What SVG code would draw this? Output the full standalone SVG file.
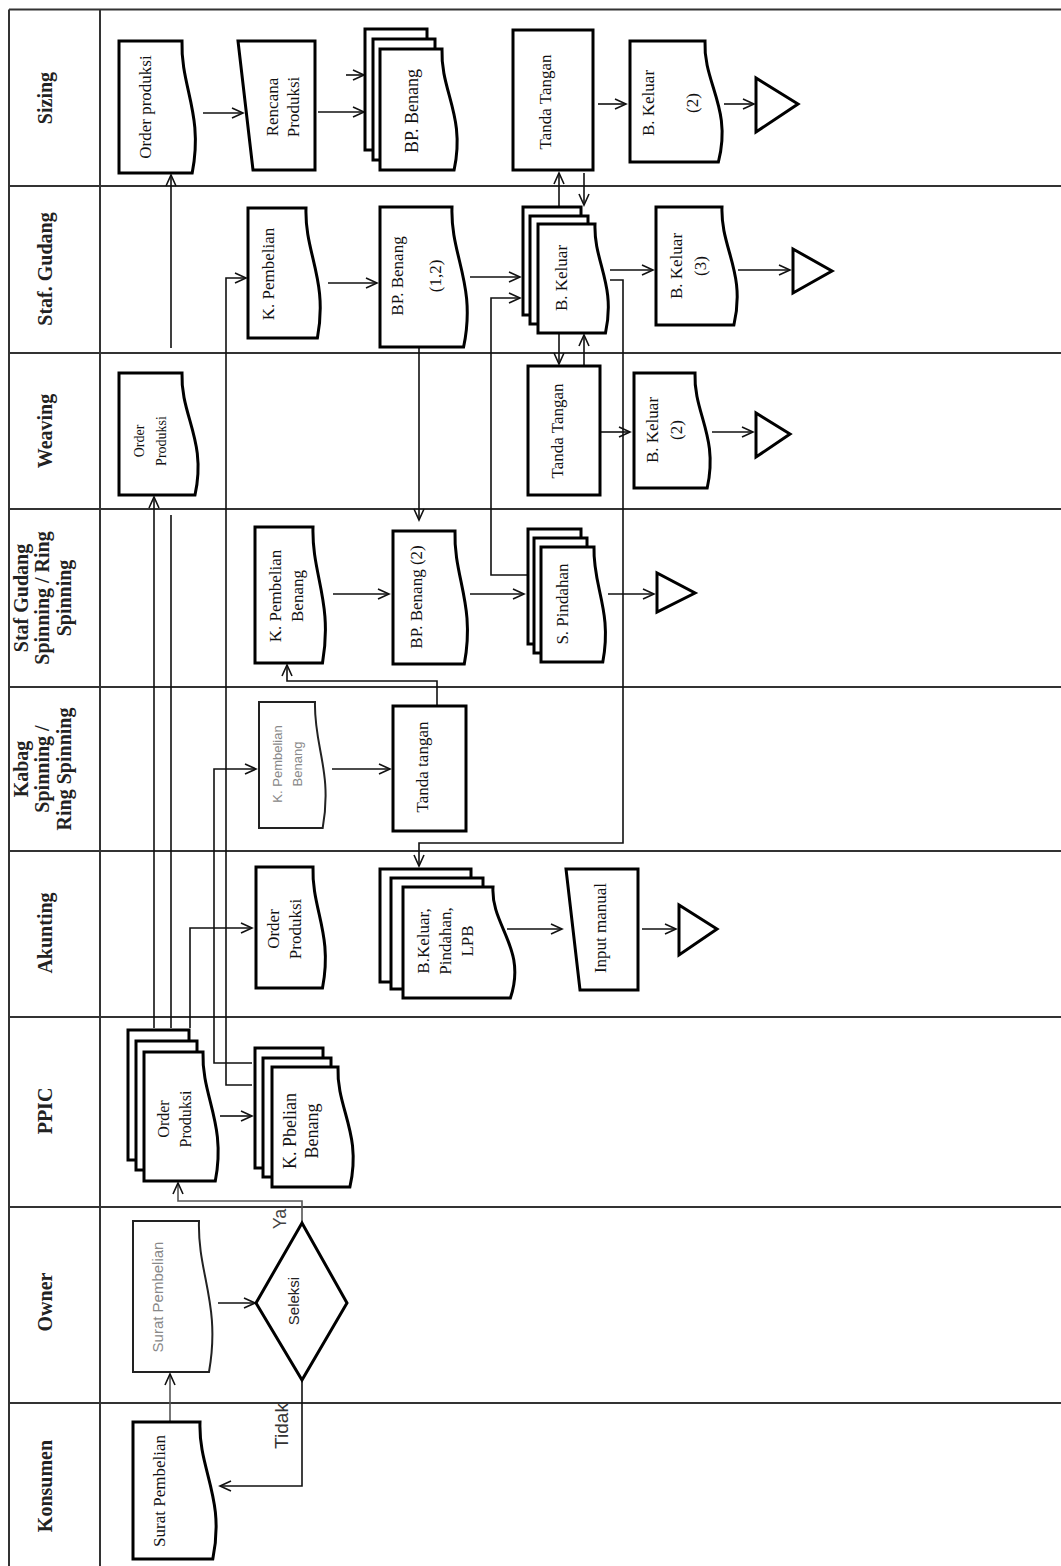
<svg xmlns="http://www.w3.org/2000/svg" width="1061" height="1566" viewBox="0 0 1061 1566">
<style>
.lane{fill:none;stroke:#333;stroke-width:2}
.node{fill:#fff;stroke:#000;stroke-width:3;stroke-linejoin:miter}
.thin{stroke-width:2;stroke:#222}
.conn{fill:none;stroke:#111;stroke-width:1.6;marker-end:url(#arr)}
.gray{stroke:#555}
.lbl{font-family:'Liberation Serif','Times New Roman',serif;font-weight:bold;font-size:20px;fill:#222;text-anchor:middle;dominant-baseline:central}
.t{font-family:'Liberation Serif','Times New Roman',serif;font-size:17px;fill:#111;text-anchor:middle;dominant-baseline:central}
.s{font-family:'Liberation Sans',Arial,sans-serif;font-size:15px;fill:#222;text-anchor:middle;dominant-baseline:central}
.g{fill:#888;font-size:13px}
</style>
<defs>
<marker id="arr" markerUnits="userSpaceOnUse" markerWidth="14" markerHeight="12" refX="12" refY="6" orient="auto">
<path d="M1,1 L12,6 L1,11" fill="none" stroke="#111" stroke-width="1.6"/>
</marker>
</defs>
<rect width="1061" height="1566" fill="#fff"/>

<g id="lanes">
<path class="lane" d="M9,9.5 H1061 M9,186 H1061 M9,353 H1061 M9,509 H1061 M9,687 H1061 M9,851 H1061 M9,1017 H1061 M9,1207 H1061 M9,1403 H1061 M9,9.5 V1566 M100,9.5 V1566"/>
<text class="lbl" transform="translate(45,98) rotate(-90)">Sizing</text>
<text class="lbl" transform="translate(45,269) rotate(-90)">Staf. Gudang</text>
<text class="lbl" transform="translate(45,431) rotate(-90)">Weaving</text>
<text class="lbl" transform="translate(42,598) rotate(-90)"><tspan x="0" y="-21.5">Staf Gudang</tspan><tspan x="0" y="0">Spinning / Ring</tspan><tspan x="0" y="21.5">Spinning</tspan></text>
<text class="lbl" transform="translate(42,769) rotate(-90)"><tspan x="0" y="-21.5">Kabag</tspan><tspan x="0" y="0">Spinning /</tspan><tspan x="0" y="21.5">Ring Spinning</tspan></text>
<text class="lbl" transform="translate(45,933) rotate(-90)">Akunting</text>
<text class="lbl" transform="translate(45,1111) rotate(-90)">PPIC</text>
<text class="lbl" transform="translate(45,1302) rotate(-90)">Owner</text>
<text class="lbl" transform="translate(45,1486) rotate(-90)">Konsumen</text>
</g>

<g id="connectors">
<path class="conn" d="M203,113 H243"/>
<path class="conn" d="M346,75 H364"/>
<path class="conn" d="M318,112 H364"/>
<path class="conn" d="M598,104 H626"/>
<path class="conn" d="M724,104 H754"/>
<path class="conn" d="M559,206 V173"/>
<path class="conn" d="M584,173 V205"/>
<path class="conn" d="M328,283 H377"/>
<path class="conn" d="M470,277 H520"/>
<path class="conn" d="M527,575 H491 V298 H520"/>
<path class="conn" d="M610,270 H653"/>
<path class="conn" d="M738,270 H790"/>
<path class="conn" d="M610,280 H623 V843 H419 V866"/>
<path class="conn" d="M559,334 V364"/>
<path class="conn" d="M584,366 V335"/>
<path class="conn" d="M419,347 V520"/>
<path class="conn" d="M600,432 H630"/>
<path class="conn" d="M712,432 H753"/>
<path class="conn" d="M333,594 H389"/>
<path class="conn" d="M470,594 H524"/>
<path class="conn" d="M608,594 H654"/>
<path class="conn" d="M437,706 V681 H287 V665"/>
<path class="conn" d="M332,769 H390"/>
<path class="conn" d="M507,929 H562"/>
<path class="conn" d="M642,929 H676"/>
<path class="conn" d="M171,1028 V515 M171,348 V175"/>
<path class="conn" d="M154,1028 V497"/>
<path class="conn" d="M190,1028 V928 H252"/>
<path class="conn" d="M252,1063 H214 V769 H256"/>
<path class="conn" d="M252,1085 H226 V278 H246"/>
<path class="conn" d="M220,1116 H252"/>
<path class="conn gray" d="M302,1223 V1201 H178 V1183"/>
<path class="conn gray" d="M170,1422 V1374"/>
<path class="conn" d="M218,1303 H255"/>
<path class="conn" d="M302,1380 V1486 H220"/>
<text class="s" style="font-size:18px;fill:#444" transform="translate(280,1219) rotate(-90)">Ya</text>
<text class="s" style="font-size:19px;fill:#333" transform="translate(281,1426) rotate(-90)">Tidak</text>
</g>

<g id="sizing-order-produksi">
<path class="node" d="M119,41 H182 C180.5,87.2 203.7,113.6 192.2,173 H119 Z"/>
<text class="t" transform="translate(145,107) rotate(-90)">Order produksi</text>
</g>
<g id="sizing-rencana-produksi">
<polygon class="node" points="238,41 315,41 315,170 253,170"/>
<text class="t" transform="translate(282,107) rotate(-90)"><tspan x="0" y="-10.5">Rencana</tspan><tspan x="0" y="10.5">Produksi</tspan></text>
</g>
<g id="sizing-bp-benang">
<rect class="node" x="365" y="29" width="62" height="121"/>
<rect class="node" x="373" y="39" width="62" height="121"/>
<path class="node" d="M380,49 H442 C440.4,91.4 465.8,115.6 454.1,170 H380 Z"/>
<text class="t" style="font-size:18px" transform="translate(412,111) rotate(-90)">BP. Benang</text>
</g>
<g id="sizing-tanda-tangan">
<rect class="node" x="513" y="30" width="80" height="140"/>
<text class="t" transform="translate(545,102) rotate(-90)">Tanda Tangan</text>
</g>
<g id="sizing-b-keluar-2">
<path class="node" d="M630,41 H705 C703.1,83.4 732.3,107.6 718.4,162 H630 Z"/>
<text class="t" transform="translate(670,103) rotate(-90)"><tspan x="0" y="-22">B. Keluar</tspan><tspan x="0" y="22">(2)</tspan></text>
</g>
<g id="sizing-end">
<polygon class="node" points="756,78 756,132 798,104"/>
</g>

<g id="gudang-k-pembelian">
<path class="node" d="M248,208 H306 C304.5,253.5 328.3,279.5 317.4,338 H248 Z"/>
<text class="t" transform="translate(268,274) rotate(-90)">K. Pembelian</text>
</g>
<g id="gudang-bp-benang-12">
<path class="node" d="M380,207 H452 C450.2,256 476.8,284 463.6,347 H380 Z"/>
<text class="t" transform="translate(416,276) rotate(-90)"><tspan x="0" y="-19">BP. Benang</tspan><tspan x="0" y="19">(1,2)</tspan></text>
</g>
<g id="gudang-b-keluar">
<rect class="node" x="523" y="207" width="58" height="108"/>
<rect class="node" x="530" y="216" width="58" height="108"/>
<path class="node" d="M538,224 H595 C593.6,262.2 616.1,284 605.5,333 H538 Z"/>
<text class="t" transform="translate(561,278) rotate(-90)">B. Keluar</text>
</g>
<g id="gudang-b-keluar-3">
<path class="node" d="M656,207 H722 C720.4,248.3 746.2,271.9 733.9,325 H656 Z"/>
<text class="t" transform="translate(688,266) rotate(-90)"><tspan x="0" y="-12">B. Keluar</tspan><tspan x="0" y="12">(3)</tspan></text>
</g>
<g id="gudang-end">
<polygon class="node" points="793,249 793,293 832,271"/>
</g>

<g id="weaving-order-produksi">
<path class="node" d="M119,373 H182 C180.4,415.7 207,440.1 195,495 H119 Z"/>
<text class="t" style="font-size:14px" transform="translate(150,441) rotate(-90)"><tspan x="0" y="-11">Order</tspan><tspan x="0" y="11">Produksi</tspan></text>
</g>
<g id="weaving-tanda-tangan">
<rect class="node" x="528" y="366" width="72" height="129"/>
<text class="t" transform="translate(557,431) rotate(-90)">Tanda Tangan</text>
</g>
<g id="weaving-b-keluar-2">
<path class="node" d="M634,373 H695 C693.5,413.3 718.7,436.3 707.2,488 H634 Z"/>
<text class="t" transform="translate(664,430) rotate(-90)"><tspan x="0" y="-12">B. Keluar</tspan><tspan x="0" y="12">(2)</tspan></text>
</g>
<g id="weaving-end">
<polygon class="node" points="756,413 756,457 790,434"/>
</g>

<g id="spin-k-pembelian-benang">
<path class="node" d="M255,527 H313 C311.6,574.6 333.1,601.8 322.5,663 H255 Z"/>
<text class="t" transform="translate(286,596) rotate(-90)"><tspan x="0" y="-11">K. Pembelian</tspan><tspan x="0" y="11">Benang</tspan></text>
</g>
<g id="spin-bp-benang-2">
<path class="node" d="M393,531 H455 C453.5,577.6 475.5,604.2 464.3,664 H393 Z"/>
<text class="t" transform="translate(416,597) rotate(-90)">BP. Benang (2)</text>
</g>
<g id="spin-s-pindahan">
<rect class="node" x="528" y="529" width="53" height="115"/>
<rect class="node" x="534" y="538" width="53" height="115"/>
<path class="node" d="M541,547 H594 C592.7,587.3 612.5,610.3 602.8,662 H541 Z"/>
<text class="t" transform="translate(562,604) rotate(-90)">S. Pindahan</text>
</g>
<g id="spin-end">
<polygon class="node" points="657,573 657,612 695,593"/>
</g>

<g id="kabag-k-pembelian-benang">
<path class="node thin" d="M259,702 H315 C313.7,746.1 332.7,771.3 322.7,828 H259 Z"/>
<text class="s g" transform="translate(287,764) rotate(-90)"><tspan x="0" y="-10">K. Pembelian</tspan><tspan x="0" y="10">Benang</tspan></text>
</g>
<g id="kabag-tanda-tangan">
<rect class="node" x="393" y="706" width="73" height="125"/>
<text class="t" transform="translate(422,767) rotate(-90)">Tanda tangan</text>
</g>

<g id="akunting-order-produksi">
<path class="node" d="M256,867 H313 C311.6,909.4 333,933.6 322.5,988 H256 Z"/>
<text class="t" transform="translate(284,929) rotate(-90)"><tspan x="0" y="-11">Order</tspan><tspan x="0" y="11">Produksi</tspan></text>
</g>
<g id="akunting-dokumen">
<rect class="node" x="380" y="869" width="91" height="113"/>
<rect class="node" x="391" y="878" width="92" height="111"/>
<path class="node" d="M403,887 H493 C490.7,925.9 527.3,948.1 510.4,998 H403 Z"/>
<text class="t" transform="translate(445,941) rotate(-90)"><tspan x="0" y="-22">B.Keluar,</tspan><tspan x="0" y="0">Pindahan,</tspan><tspan x="0" y="22">LPB</tspan></text>
</g>
<g id="akunting-input-manual">
<polygon class="node" points="566,869 638,869 638,990 580,990"/>
<text class="t" transform="translate(600,928) rotate(-90)">Input manual</text>
</g>
<g id="akunting-end">
<polygon class="node" points="679,905 679,955 717,929"/>
</g>

<g id="ppic-order-produksi">
<rect class="node" x="128" y="1030" width="61" height="130"/>
<rect class="node" x="136" y="1041" width="61" height="129"/>
<path class="node" d="M144,1052 H203 C201.5,1097.2 226.5,1123 215.3,1181 H144 Z"/>
<text class="t" style="font-size:16px" transform="translate(174,1119) rotate(-90)"><tspan x="0" y="-11">Order</tspan><tspan x="0" y="11">Produksi</tspan></text>
</g>
<g id="ppic-k-pbelian-benang">
<rect class="node" x="255" y="1048" width="68" height="120"/>
<rect class="node" x="263" y="1058" width="68" height="119"/>
<path class="node" d="M272,1067 H338 C336.4,1109 362.2,1133 349.9,1187 H272 Z"/>
<text class="t" style="font-size:18px" transform="translate(301,1131) rotate(-90)"><tspan x="0" y="-11">K. Pbelian</tspan><tspan x="0" y="11">Benang</tspan></text>
</g>

<g id="owner-surat-pembelian">
<path class="node thin" d="M133,1221 H199 C197.4,1273.9 221,1304.1 209,1372 H133 Z"/>
<text class="s" style="fill:#888" transform="translate(157,1297) rotate(-90)">Surat Pembelian</text>
</g>
<g id="owner-seleksi">
<polygon class="node" points="256,1303 302,1223 347,1303 302,1380"/>
<text class="s" transform="translate(293,1301) rotate(-90)">Seleksi</text>
</g>

<g id="konsumen-surat-pembelian">
<path class="node" d="M133,1422 H200 C198.3,1470 225.4,1497.4 212.8,1559 H133 Z"/>
<text class="t" transform="translate(159,1491) rotate(-90)">Surat Pembelian</text>
</g>
</svg>
